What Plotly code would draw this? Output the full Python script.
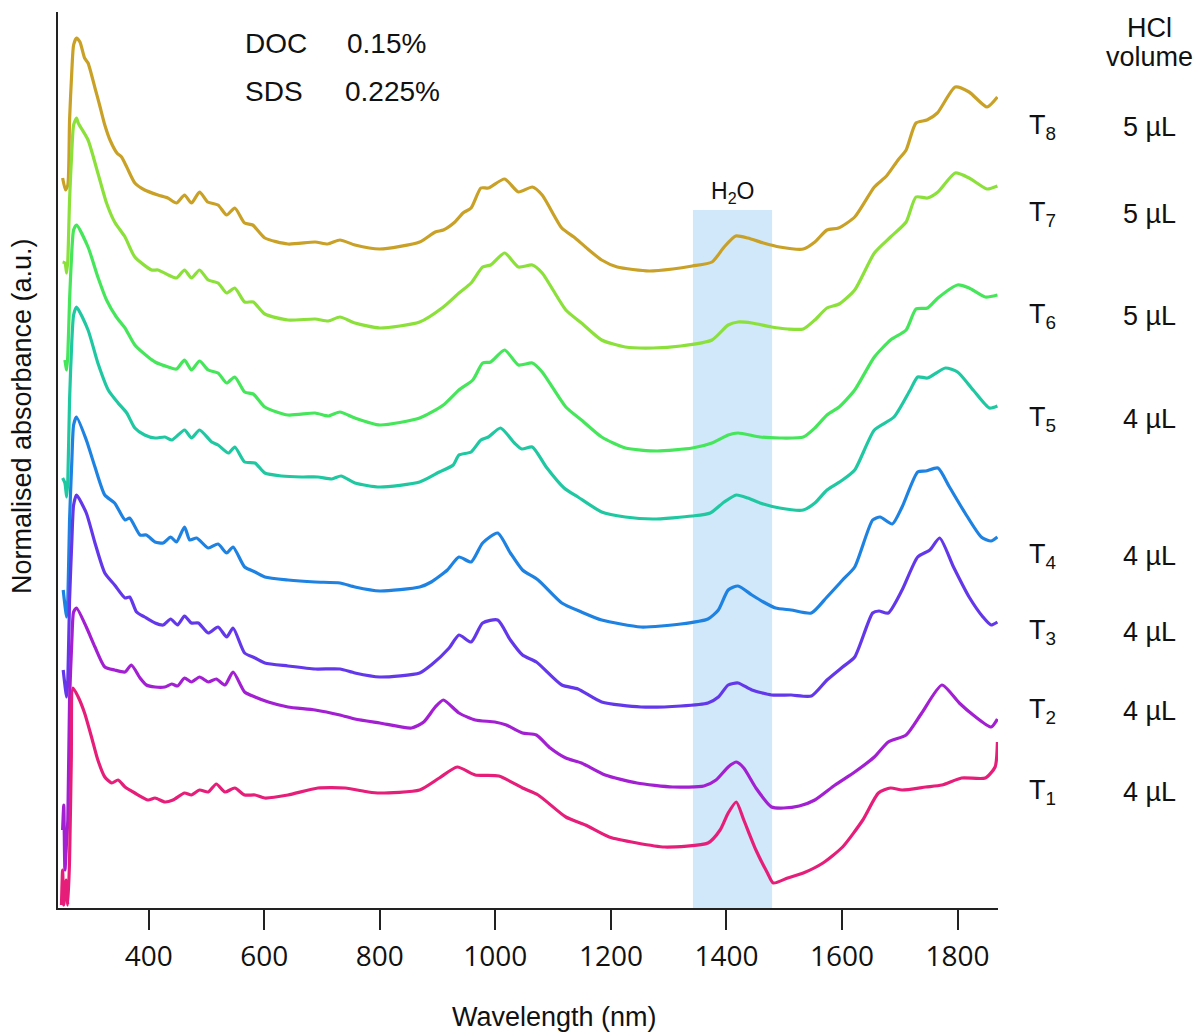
import plotly.graph_objects as go

# ---------------- data (wavelength in nm, normalised absorbance in a.u.) ----------------
wl_T8 = [251, 256, 260, 263, 267, 270, 275, 281, 289, 295, 307, 315, 324, 333, 345, 353, 362, 376, 393, 416,
         433, 448, 462, 474, 488, 502, 520, 535, 549, 566, 580, 601, 641, 688, 710, 731, 757, 800, 869, 896,
         910, 930, 944, 958, 975, 988, 1016, 1040, 1064, 1081, 1115, 1136, 1156, 1184, 1211, 1266, 1307, 1341, 1375, 1396,
         1416, 1437, 1464, 1492, 1533, 1553, 1574, 1594, 1622, 1656, 1677, 1697, 1711, 1728, 1747, 1765, 1796, 1820, 1851, 1869]
ab_T8 = [7.30, 7.18, 7.23, 7.88, 8.38, 8.63, 8.70, 8.66, 8.50, 8.45, 8.20, 8.03, 7.83, 7.68, 7.55, 7.51, 7.41, 7.25, 7.18, 7.13,
         7.10, 7.05, 7.13, 7.05, 7.16, 7.06, 7.03, 6.93, 7.00, 6.85, 6.83, 6.70, 6.64, 6.66, 6.64, 6.68, 6.63, 6.59, 6.66, 6.76,
         6.78, 6.86, 6.95, 7.00, 7.20, 7.20, 7.29, 7.16, 7.21, 7.13, 6.80, 6.71, 6.61, 6.48, 6.41, 6.37, 6.39, 6.42, 6.46, 6.61,
         6.72, 6.70, 6.65, 6.61, 6.59, 6.66, 6.78, 6.80, 6.91, 7.21, 7.32, 7.48, 7.58, 7.85, 7.88, 7.95, 8.21, 8.16, 8.01, 8.11]

wl_T7 = [251, 255, 258, 260, 263, 267, 270, 275, 278, 295, 312, 327, 341, 359, 376, 405, 416, 434, 448, 462,
         474, 488, 503, 520, 535, 549, 566, 581, 601, 641, 688, 711, 731, 757,
         800, 869, 910, 937, 958, 978, 992, 1016, 1040, 1064, 1081, 1122, 1149, 1184, 1225, 1273, 1321, 1375, 1403, 1420,
         1444, 1478, 1506, 1533, 1553, 1574, 1595, 1622, 1656, 1684, 1711, 1728, 1748, 1766, 1796, 1820, 1851, 1869]
ab_T7 = [6.46, 6.45, 6.35, 6.48, 7.08, 7.58, 7.83, 7.90, 7.85, 7.68, 7.35, 7.05, 6.86, 6.71, 6.51, 6.38, 6.38, 6.33, 6.30, 6.38,
         6.30, 6.38, 6.28, 6.25, 6.15, 6.20, 6.06, 6.06, 5.94, 5.88, 5.89, 5.87, 5.91, 5.85,
         5.80, 5.86, 6.01, 6.15, 6.25, 6.41, 6.43, 6.55, 6.41, 6.43, 6.35, 5.98, 5.85, 5.68, 5.61, 5.60, 5.62, 5.68, 5.83, 5.86,
         5.85, 5.81, 5.79, 5.79, 5.88, 6.00, 6.04, 6.18, 6.55, 6.71, 6.86, 7.11, 7.10, 7.16, 7.35, 7.30, 7.19, 7.22]

wl_T6 = [255, 258, 260, 263, 267, 270, 275, 295, 312, 327, 344, 359, 376, 399, 411, 434, 448, 462, 474, 488,
         503, 520, 535, 549, 566, 581, 601, 641, 688, 711, 731, 757,
         800, 869, 910, 937, 961, 978, 992, 1016, 1040, 1064, 1081, 1122, 1149, 1184, 1225, 1280, 1341, 1375, 1403, 1420,
         1458, 1492, 1533, 1553, 1574, 1595, 1622, 1656, 1684, 1711, 1728, 1748, 1766, 1800, 1820, 1848, 1869]
ab_T6 = [5.48, 5.38, 5.53, 6.08, 6.58, 6.78, 6.83, 6.61, 6.31, 6.08, 5.91, 5.80, 5.63, 5.51, 5.46, 5.41, 5.39, 5.48, 5.38, 5.47,
         5.38, 5.35, 5.25, 5.31, 5.16, 5.14, 5.01, 4.93, 4.95, 4.92, 4.96, 4.90,
         4.83, 4.90, 5.03, 5.18, 5.28, 5.45, 5.46, 5.58, 5.43, 5.45, 5.36, 5.01, 4.88, 4.71, 4.60, 4.57, 4.60, 4.65, 4.73, 4.75,
         4.71, 4.70, 4.71, 4.80, 4.93, 5.01, 5.18, 5.51, 5.68, 5.78, 5.99, 6.00, 6.10, 6.23, 6.20, 6.11, 6.13]

wl_T5 = [251, 255, 258, 260, 263, 267, 270, 275, 295, 312, 330, 347, 362, 376, 393, 411, 428, 440, 462, 474,
         488, 509, 520, 538, 549, 566, 584, 601, 630, 665, 693, 717, 733, 757,
         800, 869, 903, 927, 937, 958, 975, 988, 1009, 1033, 1046, 1064, 1088, 1119, 1143, 1184, 1225, 1273, 1341, 1372,
         1396, 1417, 1437, 1458, 1492, 1533, 1553, 1574, 1601, 1622, 1656, 1690, 1718, 1731, 1748, 1779, 1800, 1827, 1855, 1869]
ab_T5 = [4.30, 4.25, 4.11, 4.28, 5.08, 5.68, 5.93, 6.01, 5.78, 5.45, 5.18, 5.05, 4.95, 4.80, 4.73, 4.70, 4.71, 4.68, 4.78, 4.70,
         4.78, 4.66, 4.63, 4.55, 4.61, 4.46, 4.45, 4.35, 4.32, 4.31, 4.31, 4.29, 4.32, 4.25,
         4.21, 4.26, 4.36, 4.43, 4.53, 4.56, 4.68, 4.71, 4.80, 4.65, 4.59, 4.61, 4.41, 4.20, 4.11, 3.96, 3.91, 3.89, 3.92, 3.95,
         4.06, 4.13, 4.10, 4.05, 4.00, 3.98, 4.05, 4.18, 4.28, 4.38, 4.78, 4.91, 5.18, 5.31, 5.30, 5.40, 5.36, 5.18, 5.00, 5.02]

wl_T4 = [252, 258, 260, 263, 267, 270, 275, 292, 307, 324, 341, 359, 367, 385, 396, 411, 425, 438, 448, 462,
         471, 483, 503, 520, 535, 546, 566, 584, 601, 641, 688, 731, 757,
         800, 869, 889, 917, 937, 958, 978, 1004, 1026, 1047, 1074, 1115, 1149, 1184, 1252, 1321, 1368, 1386, 1403, 1420,
         1444, 1464, 1485, 1512, 1547, 1574, 1601, 1622, 1653, 1666, 1687, 1704, 1731, 1745, 1766, 1786, 1813, 1841, 1858, 1869]
ab_T4 = [3.18, 2.91, 3.08, 3.88, 4.48, 4.83, 4.91, 4.68, 4.41, 4.13, 4.05, 3.88, 3.90, 3.73, 3.73, 3.66, 3.65, 3.71, 3.66, 3.81,
         3.68, 3.70, 3.60, 3.64, 3.55, 3.61, 3.41, 3.36, 3.31, 3.28, 3.26, 3.25, 3.21,
         3.17, 3.21, 3.26, 3.38, 3.51, 3.46, 3.65, 3.75, 3.55, 3.38, 3.28, 3.05, 2.96, 2.88, 2.81, 2.84, 2.89, 2.98, 3.18, 3.22,
         3.13, 3.06, 3.00, 2.98, 2.95, 3.11, 3.28, 3.41, 3.88, 3.91, 3.84, 4.01, 4.36, 4.37, 4.40, 4.21, 3.95, 3.71, 3.67, 3.71]

wl_T3 = [252, 258, 260, 263, 267, 270, 275, 292, 307, 324, 341, 359, 367, 379, 393, 411, 425, 438, 450, 462,
         474, 486, 503, 520, 535, 546, 566, 584, 601, 641, 688, 731, 757,
         800, 869, 889, 920, 937, 958, 978, 1004, 1026, 1047, 1071, 1115, 1143, 1184, 1252, 1321, 1368, 1386, 1403, 1420,
         1444, 1478, 1512, 1547, 1574, 1601, 1622, 1653, 1664, 1680, 1704, 1731, 1752, 1769, 1793, 1820, 1844, 1858, 1869]
ab_T3 = [2.38, 2.11, 2.28, 3.08, 3.68, 4.03, 4.13, 3.95, 3.65, 3.35, 3.23, 3.10, 3.11, 2.96, 2.91, 2.85, 2.83, 2.89, 2.83, 2.92,
         2.85, 2.85, 2.75, 2.81, 2.71, 2.80, 2.55, 2.50, 2.45, 2.42, 2.39, 2.39, 2.35,
         2.31, 2.35, 2.43, 2.60, 2.73, 2.66, 2.85, 2.88, 2.68, 2.53, 2.46, 2.23, 2.19, 2.06, 2.01, 2.02, 2.05, 2.11, 2.23, 2.25,
         2.18, 2.13, 2.13, 2.12, 2.28, 2.41, 2.51, 2.95, 2.97, 2.95, 3.18, 3.51, 3.58, 3.70, 3.41, 3.11, 2.91, 2.83, 2.86]

wl_T2 = [251, 253, 255, 258, 260, 263, 267, 270, 275, 292, 307, 324, 341, 359, 370, 385, 396, 411, 428, 440,
         450, 462, 474, 488, 503, 517, 532, 546, 566, 584, 607, 641, 688, 731, 757,
         800, 855, 876, 896, 910, 937, 965, 999, 1019, 1047, 1071, 1095, 1122, 1149, 1190, 1245, 1307, 1361, 1382, 1403,
         1417, 1430, 1451, 1478, 1499, 1526, 1553, 1588, 1622, 1656, 1680, 1711, 1738, 1773, 1803, 1827, 1858, 1869]
ab_T2 = [0.78, 1.03, 0.38, 0.68, 0.88, 2.08, 2.68, 2.96, 3.00, 2.81, 2.61, 2.41, 2.38, 2.36, 2.43, 2.30, 2.23, 2.21, 2.21, 2.24,
         2.22, 2.30, 2.26, 2.31, 2.26, 2.29, 2.23, 2.36, 2.16, 2.11, 2.06, 2.01, 1.98, 1.93, 1.89,
         1.85, 1.80, 1.86, 2.01, 2.08, 1.95, 1.88, 1.86, 1.83, 1.75, 1.73, 1.60, 1.50, 1.45, 1.33, 1.25, 1.21, 1.22, 1.28, 1.41,
         1.46, 1.40, 1.20, 1.01, 1.00, 1.02, 1.08, 1.23, 1.36, 1.51, 1.66, 1.73, 1.95, 2.23, 2.05, 1.93, 1.81, 1.89]

wl_T1 = [249, 251, 253, 257, 260, 263, 266, 269, 278, 289, 301, 312, 324, 336, 347, 359, 376, 399, 411, 428,
         442, 462, 474, 488, 503, 517, 532, 549, 566, 584, 601, 641, 693, 740, 780,
         800, 869, 903, 934, 965, 1006, 1047, 1074, 1122, 1156, 1197, 1245, 1293, 1368, 1389, 1403, 1417, 1430, 1451, 1471,
         1481, 1506, 1533, 1567, 1601, 1636, 1663, 1684, 1704, 1745, 1773, 1807, 1848, 1865, 1869]
ab_T1 = [0.03, 0.38, 0.03, 0.28, 0.03, 0.48, 1.48, 2.20, 2.11, 1.95, 1.71, 1.48, 1.31, 1.25, 1.28, 1.21, 1.15, 1.08, 1.10, 1.06,
         1.08, 1.15, 1.13, 1.18, 1.16, 1.24, 1.16, 1.20, 1.13, 1.13, 1.10, 1.13, 1.20, 1.20, 1.16,
         1.15, 1.18, 1.30, 1.41, 1.33, 1.32, 1.20, 1.13, 0.91, 0.83, 0.71, 0.65, 0.61, 0.65, 0.78, 0.95, 1.06, 0.88, 0.58, 0.35,
         0.25, 0.30, 0.35, 0.45, 0.61, 0.88, 1.15, 1.20, 1.18, 1.21, 1.23, 1.30, 1.30, 1.41, 1.66]

series_names = ["T8", "T7", "T6", "T5", "T4", "T3", "T2", "T1"]
series_colors = ["#C9A126", "#8BE03A", "#45E65A", "#20C8A2", "#1E82E2", "#6338EA", "#A31FD2", "#E61E7A"]
hcl_volume = ["5 µL", "5 µL", "5 µL", "4 µL", "4 µL", "4 µL", "4 µL", "4 µL"]
label_level = [7.81, 6.94, 5.92, 4.89, 3.52, 2.76, 1.97, 1.16]   # vertical position of right-hand labels (a.u.)

h2o_band = [1342, 1479]
h2o_top = 6.98
tick_values = [400, 600, 800, 1000, 1200, 1400, 1600, 1800]

wl_all = [wl_T8, wl_T7, wl_T6, wl_T5, wl_T4, wl_T3, wl_T2, wl_T1]
ab_all = [ab_T8, ab_T7, ab_T6, ab_T5, ab_T4, ab_T3, ab_T2, ab_T1]

# ---------------- figure ----------------
fig = go.Figure()

for name, col, xs, ys in zip(series_names, series_colors, wl_all, ab_all):
    fig.add_trace(go.Scatter(x=xs, y=ys, mode="lines", name=name,
                             line=dict(color=col, width=3.2, shape="spline", smoothing=0.6),
                             showlegend=False))

fig.add_shape(type="rect", xref="x", yref="y", x0=h2o_band[0], x1=h2o_band[1], y0=0, y1=h2o_top,
              fillcolor="#D0E8FA", line=dict(width=0), layer="below")

FAM = "Liberation Sans, Arial, sans-serif"
txt_font = dict(family=FAM, size=27, color="#111111")
big_font = dict(family=FAM, size=28, color="#111111")


def note(x, y, text, xref="x", yref="y", xanchor="center", font=txt_font, **kw):
    return dict(x=x, y=y, xref=xref, yref=yref, text=text, showarrow=False,
                xanchor=xanchor, yanchor="middle", font=font, **kw)


ann = []
ann.append(note(1411, 7.16, "H<sub>2</sub>O", font=dict(family=FAM, size=23, color="#111111")))
ann.append(note(563, 8.65, "DOC", xanchor="left", font=big_font))
ann.append(note(740, 8.65, "0.15%", xanchor="left", font=big_font))
ann.append(note(563, 8.17, "SDS", xanchor="left", font=big_font))
ann.append(note(737, 8.17, "0.225%", xanchor="left", font=big_font))

ann.append(note(1.1617, 8.80, "HCl", xref="paper"))
ann.append(note(1.1617, 8.51, "volume", xref="paper"))
for name, vol, lvl in zip(series_names, hcl_volume, label_level):
    ann.append(note(1.031, lvl, "T<sub>%s</sub>" % name[1:], xref="paper", xanchor="left"))
    ann.append(note(1.1617, lvl, vol, xref="paper"))

ann.append(note(-0.0383, 0.549, "Normalised absorbance (a.u.)", xref="paper", yref="paper",
                textangle=-90))
ann.append(note(0.5287, -0.1217, "Wavelength (nm)", xref="paper", yref="paper"))

fig.update_layout(
    width=1197, height=1032,
    margin=dict(l=58, r=199, t=12, b=124),
    paper_bgcolor="white", plot_bgcolor="white",
    annotations=ann,
    xaxis=dict(range=[243, 1870], tickvals=tick_values, ticks="outside", ticklen=20, tickwidth=2,
               tickcolor="#222222", showline=True, linewidth=2, linecolor="#222222",
               showgrid=False, zeroline=False, ticklabelstandoff=2,
               tickfont=dict(family="Open Sans, sans-serif", size=28, color="#111111")),
    yaxis=dict(range=[0, 8.96], showline=True, linewidth=2, linecolor="#222222",
               showgrid=False, zeroline=False, showticklabels=False, ticks=""),
)

fig.write_html("out.html")
